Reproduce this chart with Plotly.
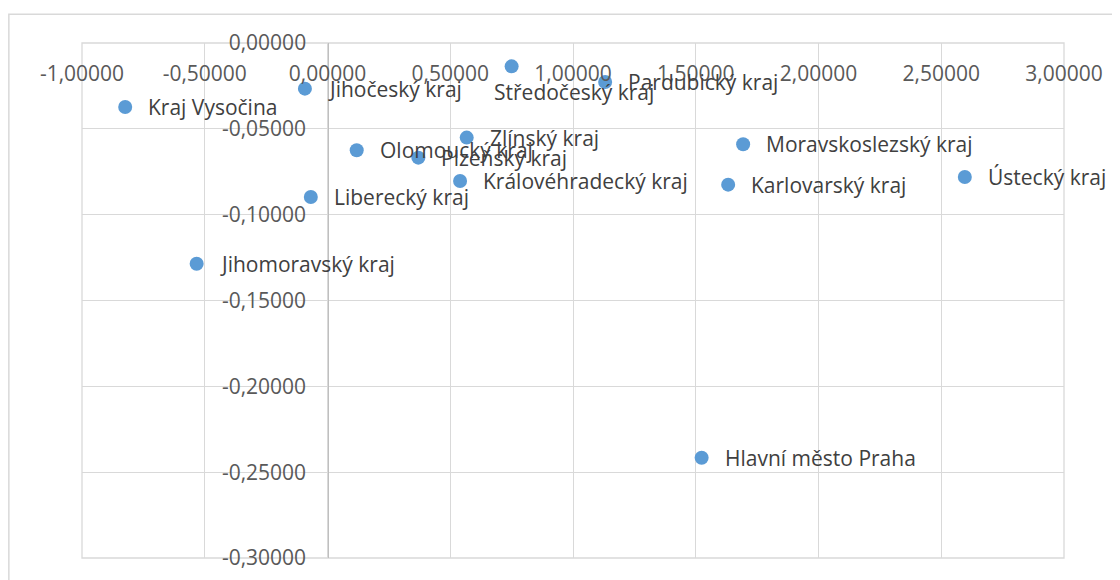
import plotly.graph_objects as go

# ---- data ----
regions = [
    "Kraj Vysočina", "Jihočeský kraj", "Olomoucký kraj", "Liberecký kraj",
    "Středočeský kraj", "Pardubický kraj", "Zlínský kraj", "Plzeňský kraj",
    "Královéhradecký kraj", "Moravskoslezský kraj", "Karlovarský kraj",
    "Ústecký kraj", "Jihomoravský kraj", "Hlavní město Praha",
]
x_values = [-0.824, -0.092, 0.119, -0.068, 0.750, 1.131, 0.567, 0.370,
            0.540, 1.693, 1.632, 2.596, -0.533, 1.524]
y_values = [-0.0373, -0.0266, -0.0625, -0.0897, -0.0136, -0.0227, -0.0551,
            -0.0668, -0.0804, -0.0590, -0.0825, -0.0781, -0.1286, -0.2416]

x_tick_vals = [-1.0, -0.5, 0.0, 0.5, 1.0, 1.5, 2.0, 2.5, 3.0]
x_tick_text = ["-1,00000", "-0,50000", "0,00000", "0,50000", "1,00000",
               "1,50000", "2,00000", "2,50000", "3,00000"]
y_tick_vals = [0.0, -0.05, -0.10, -0.15, -0.20, -0.25, -0.30]
y_tick_text = ["0,00000", "-0,05000", "-0,10000", "-0,15000", "-0,20000",
               "-0,25000", "-0,30000"]

# ---- style ----
FONT = "Open Sans"
FS = 21
MARKER = "#5B9BD5"
GRID = "#D9D9D9"
TICK_COLOR = "#595959"
LABEL_COLOR = "#404040"
label_override = {"Středočeský kraj": dict(xshift=-20, yshift=-26)}

fig = go.Figure()
fig.add_trace(go.Scatter(
    x=x_values, y=y_values, mode="markers",
    marker=dict(size=14, color=MARKER, line=dict(width=0)),
    hoverinfo="skip", showlegend=False, cliponaxis=False,
))

for name, xv, yv in zip(regions, x_values, y_values):
    off = label_override.get(name, dict(xshift=21, yshift=0))
    fig.add_annotation(
        x=xv, y=yv, text=name, showarrow=False,
        xanchor="left", yanchor="middle",
        xshift=off["xshift"], yshift=off["yshift"],
        font=dict(family=FONT, size=FS, color=LABEL_COLOR),
    )

# outer chart border
fig.add_shape(type="rect", xref="paper", yref="paper",
              x0=-0.0745, x1=1.2, y0=-0.2, y1=1.0557,
              line=dict(color=GRID, width=1.5), fillcolor="rgba(0,0,0,0)",
              layer="below")
# plot-area edge gridlines (range ends)
fig.add_shape(type="rect", xref="paper", yref="paper",
              x0=0, x1=1, y0=0, y1=1,
              line=dict(color=GRID, width=1.3), fillcolor="rgba(0,0,0,0)",
              layer="below")

fig.update_layout(
    width=1120, height=580,
    margin=dict(l=74, r=64, t=35, b=30, autoexpand=False),
    paper_bgcolor="white", plot_bgcolor="white",
    font=dict(family=FONT, size=FS, color=TICK_COLOR),
    xaxis=dict(
        range=[-1, 3], tickvals=x_tick_vals, ticktext=x_tick_text,
        showgrid=True, gridcolor=GRID, gridwidth=1.3,
        zeroline=False, showline=False, ticks="",
        anchor="free", position=0.969, side="bottom", automargin=False,
        tickfont=dict(family=FONT, size=FS, color=TICK_COLOR),
    ),
    yaxis=dict(
        range=[-0.3, 0], tickvals=y_tick_vals, ticktext=y_tick_text,
        showgrid=True, gridcolor=GRID, gridwidth=1.3,
        zeroline=False, showline=True, linecolor="#BFBFBF", linewidth=1.3,
        ticks="", anchor="free", position=0.25, side="left", automargin=False,
        ticklabelstandoff=17,
        tickfont=dict(family=FONT, size=FS, color=TICK_COLOR),
    ),
)

fig.write_html("out.html")
